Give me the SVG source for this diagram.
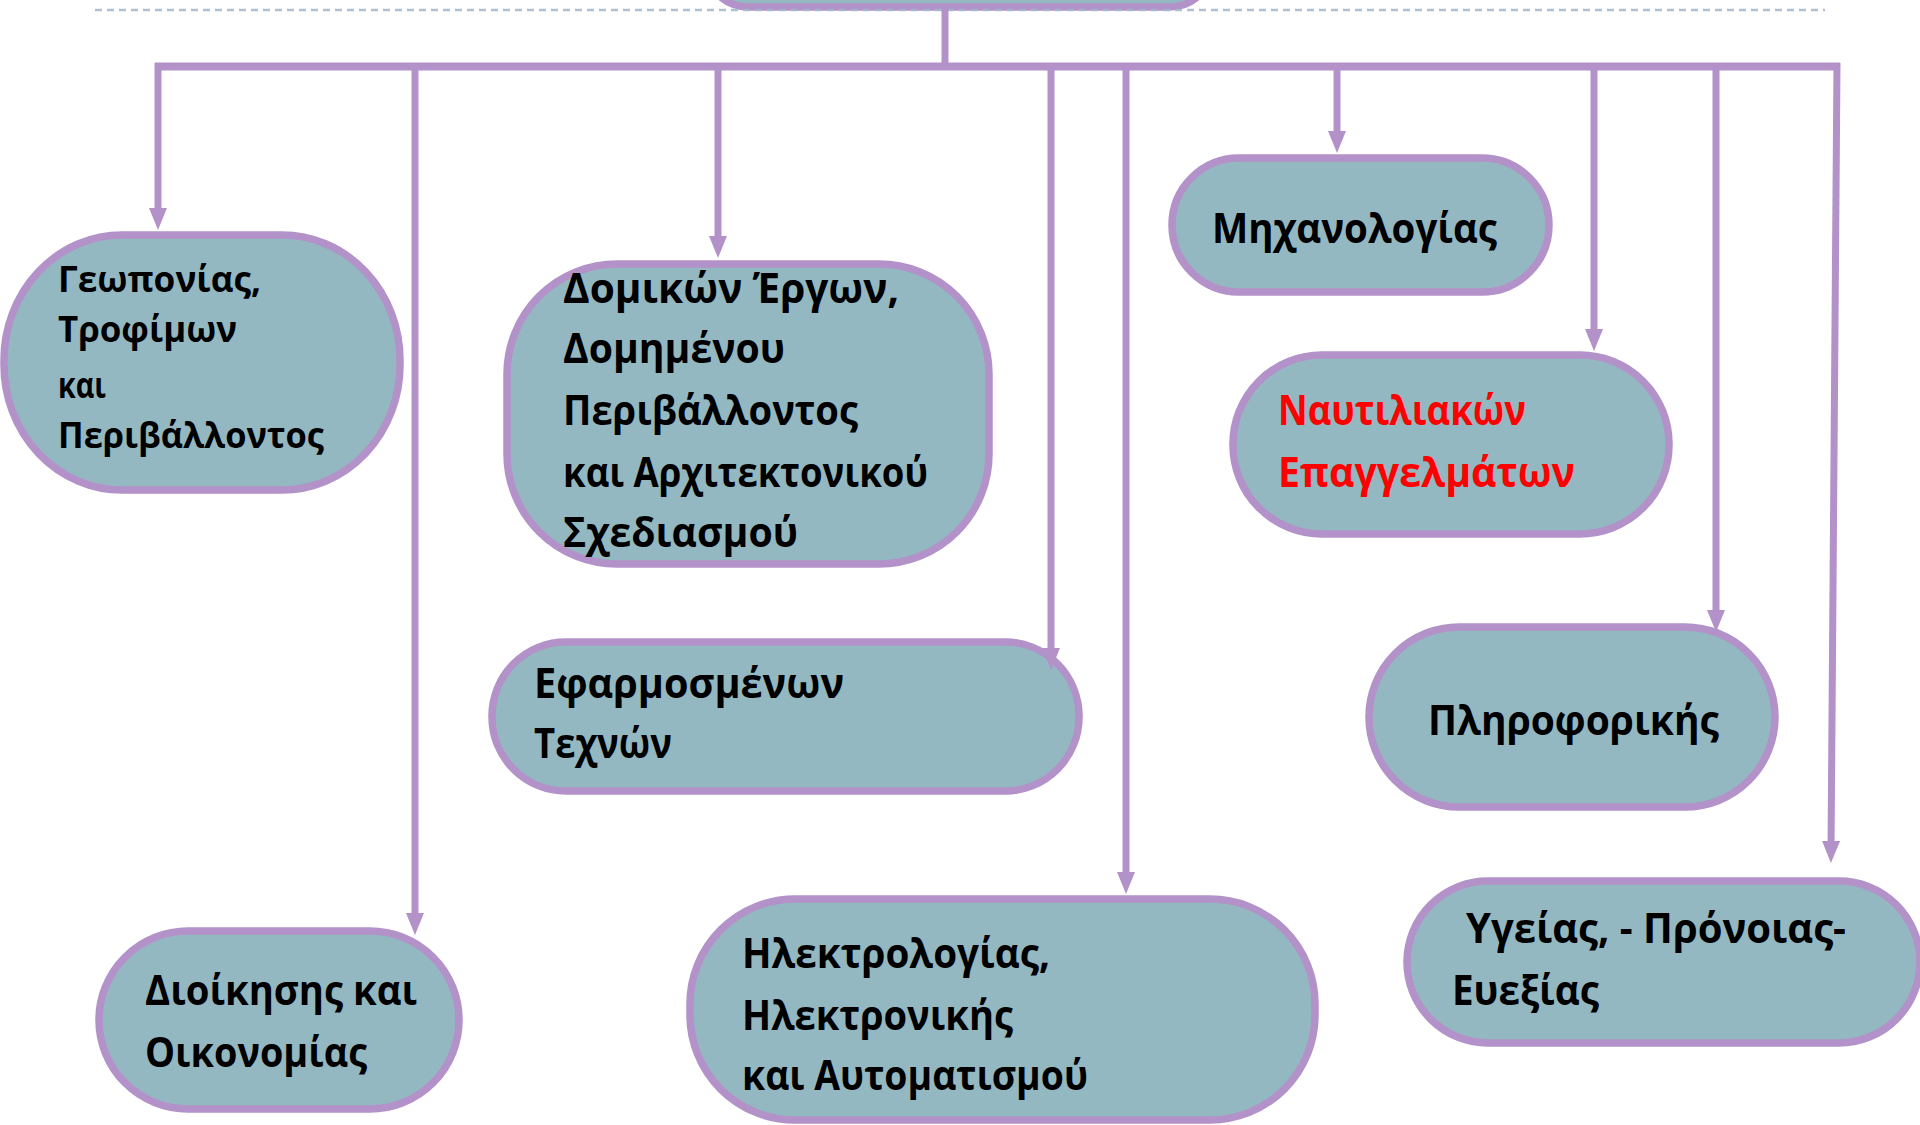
<svg xmlns="http://www.w3.org/2000/svg" width="1920" height="1125" viewBox="0 0 1920 1125">
<defs>
<style>
.node{fill:#94b8c2;stroke:#b292c8;stroke-width:7.5}
.t{font-family:"Open Sans","Noto Sans","Liberation Sans",sans-serif;font-weight:700;fill:#000;font-size:42px}
.s{font-size:36px}
.red{fill:#ff0000}
.c{stroke:#b292c8;stroke-width:7;fill:none}
.ca{stroke:#b292c8;stroke-width:7;fill:none;marker-end:url(#ah)}
</style>
<marker id="ah" markerUnits="userSpaceOnUse" viewBox="0 0 22 18" markerWidth="22" markerHeight="18" refX="10" refY="9" orient="auto">
<path d="M0,0 L22,9 L0,18 z" fill="#b292c8"/>
</marker>
</defs>
<rect width="1920" height="1125" fill="#ffffff"/>

<g id="node-top">
<rect class="node" x="704" y="-150" width="510" height="157" rx="45"/>
</g>
<line x1="95" y1="10" x2="1825" y2="10" stroke="#a0b8cc" stroke-width="2.5" stroke-dasharray="7 5" opacity="0.85"/>

<g id="node-geoponias">
<rect class="node" x="4" y="235" width="396" height="255" rx="118" ry="125"/>
<text class="t s" x="58" y="292" textLength="203" lengthAdjust="spacingAndGlyphs">Γεωπονίας,</text>
<text class="t s" x="58" y="342" textLength="179" lengthAdjust="spacingAndGlyphs">Τροφίμων</text>
<text class="t s" x="58" y="398" textLength="48" lengthAdjust="spacingAndGlyphs">και</text>
<text class="t s" x="58" y="448" textLength="266" lengthAdjust="spacingAndGlyphs">Περιβάλλοντος</text>
</g>

<g id="node-domikon">
<rect class="node" x="507" y="264" width="482" height="300" rx="110" ry="110"/>
<text class="t" x="563" y="303" textLength="336" lengthAdjust="spacingAndGlyphs">Δομικών Έργων,</text>
<text class="t" x="563" y="363" textLength="222" lengthAdjust="spacingAndGlyphs">Δομημένου</text>
<text class="t" x="563" y="425" textLength="295" lengthAdjust="spacingAndGlyphs">Περιβάλλοντος</text>
<text class="t" x="563" y="487" textLength="365" lengthAdjust="spacingAndGlyphs">και Αρχιτεκτονικού</text>
<text class="t" x="563" y="547" textLength="235" lengthAdjust="spacingAndGlyphs">Σχεδιασμού</text>
</g>

<g id="node-michanologias">
<rect class="node" x="1172" y="158" width="377" height="134" rx="67"/>
<text class="t" x="1212" y="243" textLength="285" lengthAdjust="spacingAndGlyphs">Μηχανολογίας</text>
</g>

<g id="node-naftiliakon">
<rect class="node" x="1233" y="355" width="436" height="179" rx="89"/>
<text class="t red" x="1278" y="425" textLength="248" lengthAdjust="spacingAndGlyphs">Ναυτιλιακών</text>
<text class="t red" x="1278" y="487" textLength="297" lengthAdjust="spacingAndGlyphs">Επαγγελμάτων</text>
</g>

<g id="node-efarmosmenon">
<rect class="node" x="492" y="642" width="587" height="149" rx="74"/>
<text class="t" x="534" y="698" textLength="310" lengthAdjust="spacingAndGlyphs">Εφαρμοσμένων</text>
<text class="t" x="534" y="758" textLength="138" lengthAdjust="spacingAndGlyphs">Τεχνών</text>
</g>

<g id="node-pliroforikis">
<rect class="node" x="1369" y="627" width="406" height="180" rx="90"/>
<text class="t" x="1428" y="735" textLength="291" lengthAdjust="spacingAndGlyphs">Πληροφορικής</text>
</g>

<g id="node-ygeias">
<rect class="node" x="1407" y="881" width="513" height="162" rx="81"/>
<text class="t" x="1466" y="943" textLength="380" lengthAdjust="spacingAndGlyphs">Υγείας, - Πρόνοιας-</text>
<text class="t" x="1452" y="1005" textLength="147" lengthAdjust="spacingAndGlyphs">Ευεξίας</text>
</g>

<g id="node-dioikisis">
<rect class="node" x="99" y="931" width="360" height="178" rx="89"/>
<text class="t" x="145" y="1005" textLength="272" lengthAdjust="spacingAndGlyphs">Διοίκησης και</text>
<text class="t" x="145" y="1067" textLength="222" lengthAdjust="spacingAndGlyphs">Οικονομίας</text>
</g>

<g id="node-ilektrologias">
<rect class="node" x="690" y="899" width="625" height="221" rx="105"/>
<text class="t" x="742" y="968" textLength="308" lengthAdjust="spacingAndGlyphs">Ηλεκτρολογίας,</text>
<text class="t" x="742" y="1030" textLength="271" lengthAdjust="spacingAndGlyphs">Ηλεκτρονικής</text>
<text class="t" x="742" y="1090" textLength="346" lengthAdjust="spacingAndGlyphs">και Αυτοματισμού</text>
</g>

<g id="connectors">
<line class="c" x1="945" y1="7" x2="945" y2="66"/>
<line class="c" x1="155" y1="66.5" x2="1840" y2="66.5" style="stroke-width:8"/>
<line class="ca" x1="158" y1="63" x2="158" y2="218"/>
<line class="ca" x1="415" y1="63" x2="415" y2="923"/>
<line class="ca" x1="718" y1="63" x2="718" y2="246"/>
<line class="ca" x1="1051" y1="63" x2="1051" y2="658"/>
<line class="ca" x1="1126" y1="63" x2="1126" y2="882"/>
<line class="ca" x1="1337" y1="63" x2="1337" y2="141"/>
<line class="ca" x1="1594" y1="63" x2="1594" y2="339"/>
<line class="ca" x1="1716" y1="63" x2="1716" y2="620"/>
<line class="ca" x1="1837" y1="63" x2="1831" y2="851"/>
</g>
</svg>
